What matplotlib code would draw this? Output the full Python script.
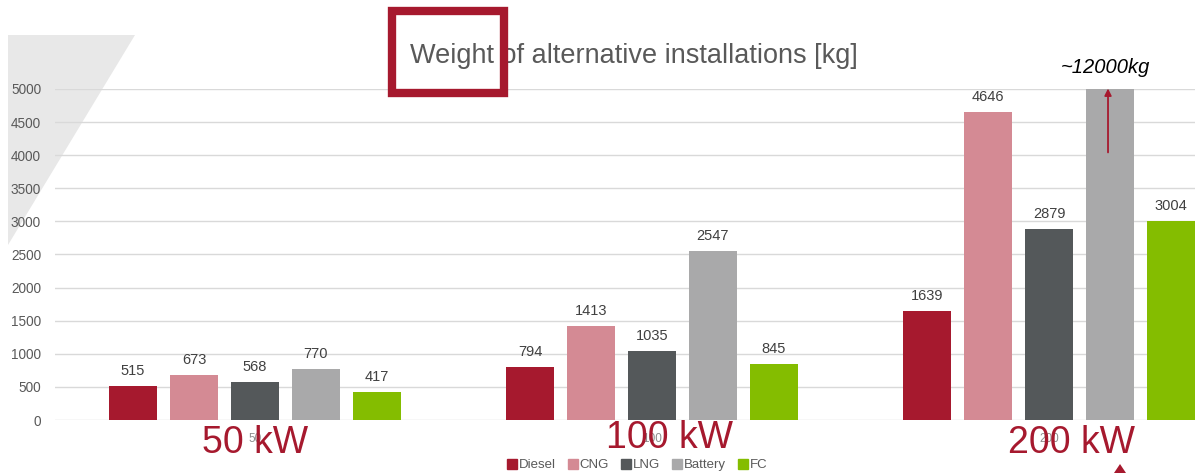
import matplotlib
matplotlib.use("Agg")
import matplotlib.pyplot as plt
from matplotlib.patches import Polygon, Rectangle
from matplotlib.lines import Line2D
import numpy as np

plt.rcParams['font.family'] = ['Liberation Sans', 'DejaVu Sans']

groups = ["50", "100", "200"]
group_titles = ["50 kW", "100 kW", "200 kW"]
series = ["Diesel", "CNG", "LNG", "Battery", "FC"]
colors = ["#a6192e", "#d48a94", "#54585a", "#a9a9aa", "#84bd00"]
values = {
    "Diesel":  [515, 794, 1639],
    "CNG":     [673, 1413, 4646],
    "LNG":     [568, 1035, 2879],
    "Battery": [770, 2547, 12000],
    "FC":      [417, 845, 3004],
}
yticks = [0, 500, 1000, 1500, 2000, 2500, 3000, 3500, 4000, 4500, 5000]
title = "Weight of alternative installations [kg]"
note = "~12000kg"

W, H = 1195, 473
fig = plt.figure(figsize=(W / 100, H / 100), dpi=100)

# decorative grey triangle (behind everything)
fig.patches.append(Polygon([(8 / W, 1 - 35 / H), (135 / W, 1 - 35 / H), (8 / W, 1 - 245 / H)],
                           closed=True, transform=fig.transFigure, facecolor="#e8e8e8",
                           edgecolor="none", zorder=-5))

ax = fig.add_axes([55 / W, 1 - 420 / H, 1140 / W, 331 / H])
ax.set_facecolor("none")
ax.set_zorder(1)
x = np.arange(len(groups))
step = 61 / 397
bw = 48 / 397
for i, s in enumerate(series):
    pos = x + (i - 2) * step
    ax.bar(pos, values[s], width=bw, color=colors[i], zorder=3, label=s)
    for p, v in zip(pos, values[s]):
        if v <= 5000:
            ax.annotate(f"{v}", (p, v), xytext=(0, 15), textcoords="offset pixels",
                        ha="center", va="center", fontsize=10.5, color="#404040")

ax.set_ylim(0, 5000)
ax.set_xlim(-200 / 397, 940 / 397)
ax.set_yticks(yticks)
ax.set_yticklabels([str(t) for t in yticks], fontsize=9.8, color="#595959")
ax.set_xticks(x)
ax.set_xticklabels(groups, fontsize=8.5, color="#8c8c8c")
ax.tick_params(axis="both", length=0)
ax.tick_params(axis="y", pad=10)
ax.tick_params(axis="x", pad=9)
ax.grid(axis="y", color="#d9d9d9", linewidth=1, zorder=0)
for sp in ax.spines.values():
    sp.set_visible(False)

# big group titles
title_pos = [(255, 443), (670, 438), (1072, 443)]
for t, (px, py) in zip(group_titles, title_pos):
    fig.text(px / W, 1 - py / H, t, ha="center", va="center", fontsize=27,
             color="#a6192e", zorder=10)

# title
fig.text(634 / W, 1 - 56 / H, title, ha="center", va="center", fontsize=19.5, color="#595959")
# red highlight box
fig.patches.append(Rectangle((392 / W, 1 - 93 / H), 112 / W, 82 / H, transform=fig.transFigure,
                             fill=False, edgecolor="#a6192e", linewidth=6, zorder=5))

# annotation
fig.text(1105 / W, 1 - 67 / H, note, ha="center", va="center", fontsize=14.5,
         style="italic", color="black")
ax.annotate("", xy=(2 + 1 * step - 0.005, 5050), xytext=(2 + 1 * step - 0.005, 4000),
            arrowprops=dict(arrowstyle="-|>", color="#a6192e", lw=1.3, mutation_scale=10),
            zorder=6, annotation_clip=False)

# small triangle at bottom
fig.patches.append(Polygon([(1114 / W, 1 - 473 / H), (1126 / W, 1 - 473 / H), (1120 / W, 1 - 464 / H)],
                           closed=True, transform=fig.transFigure, facecolor="#a6192e",
                           edgecolor="none", zorder=5))

handles = [Line2D([], [], marker="s", linestyle="none", markersize=7, markerfacecolor=c,
                  markeredgecolor=c) for c in colors]
fig.legend(handles, series, loc="center", bbox_to_anchor=(637 / W, 1 - 465 / H), ncol=5,
           frameon=False, fontsize=9.5, handletextpad=0.1, columnspacing=0.9,
           handlelength=0.8, labelcolor="#595959", borderpad=0)

fig.savefig("out.png", dpi=100)
